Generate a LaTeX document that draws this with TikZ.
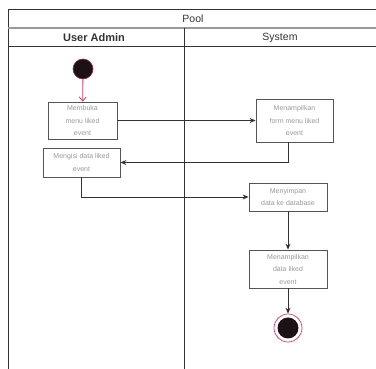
\documentclass[tikz,border=0pt]{standalone}
\usepackage{fontspec}
\setmainfont{Liberation Sans}
\usetikzlibrary{arrows.meta}
\definecolor{linedark}{HTML}{333333}
\definecolor{linegray}{HTML}{999999}
\definecolor{boxline}{HTML}{555555}
\definecolor{acttext}{HTML}{9A9A9A}
\definecolor{startpink}{HTML}{C8406E}
\definecolor{dotfill}{HTML}{1C1216}
\tikzset{
  lane/.style={draw=linedark, line width=0.9pt},
  act/.style={draw=boxline, line width=0.8pt, fill=white, align=center,
    text=acttext, inner sep=0pt, font=\fontsize{7}{12.5}\selectfont},
  flow/.style={draw=linedark, line width=0.8pt, -{Stealth[length=6pt,width=5pt]}},
  headtext/.style={text=linedark, font=\fontsize{10.5}{12}\selectfont}
}
\begin{document}
\begin{tikzpicture}[x=1pt,y=-1pt]
\useasboundingbox (0,0) rectangle (376,369);
% pool frame and swimlanes
\draw[lane] (8,369) -- (8,9) -- (376,9);
\draw[draw=linegray, line width=1.6pt] (8,28) -- (376,28);
\draw[lane] (8,46) -- (376,46);
\draw[lane, line width=0.8pt] (184,28) -- (184,369);
\node[headtext] (pool) at (193,18.5) {Pool};
\node[headtext, font=\fontsize{11}{12}\selectfont\bfseries] (lanea) at (94,37.5) {User Admin};
\node[headtext] (laneb) at (280,37.5) {System};
% activities
\node[circle, fill=dotfill, draw=startpink!70!black, line width=0.6pt, minimum size=20pt, inner sep=0pt] (start) at (83,69) {};
\node[act, minimum width=69pt, minimum height=37pt] (a1) at (82.5,120.5) {Membuka\\menu liked\\event};
\node[act, minimum width=77pt, minimum height=43pt] (a2) at (294.5,120.5) {Menampilkan\\form menu liked\\event};
\node[act, minimum width=77pt, minimum height=29pt] (a3) at (81.5,162.5) {Mengisi data liked\\event};
\node[act, minimum width=78pt, minimum height=28pt] (a4) at (288,197) {Menyimpan\\data ke database};
\node[act, minimum width=78pt, minimum height=38pt] (a5) at (288,269) {Menampilkan\\data liked\\event};
\node[circle, draw=startpink, line width=0.7pt, fill=white, minimum size=28pt, inner sep=0pt] (end) at (288,328) {};
\node[circle, fill=dotfill, minimum size=21pt, inner sep=0pt] (endin) at (end.center) {};
% control flow
\draw[draw=startpink, line width=0.8pt, -{Straight Barb[length=4pt,width=7pt]}] (start) -- (a1);
\draw[flow] (a1.east) -- (a2.west |- a1.east);
\draw[flow] (a2.south -| a5.north) |- (a3.east);
\draw[flow] (a3.south) |- (a4.west);
\draw[flow] (a4.south) -- (a5.north);
\draw[flow] (a5.south) -- (end.north);
\end{tikzpicture}
\end{document}
